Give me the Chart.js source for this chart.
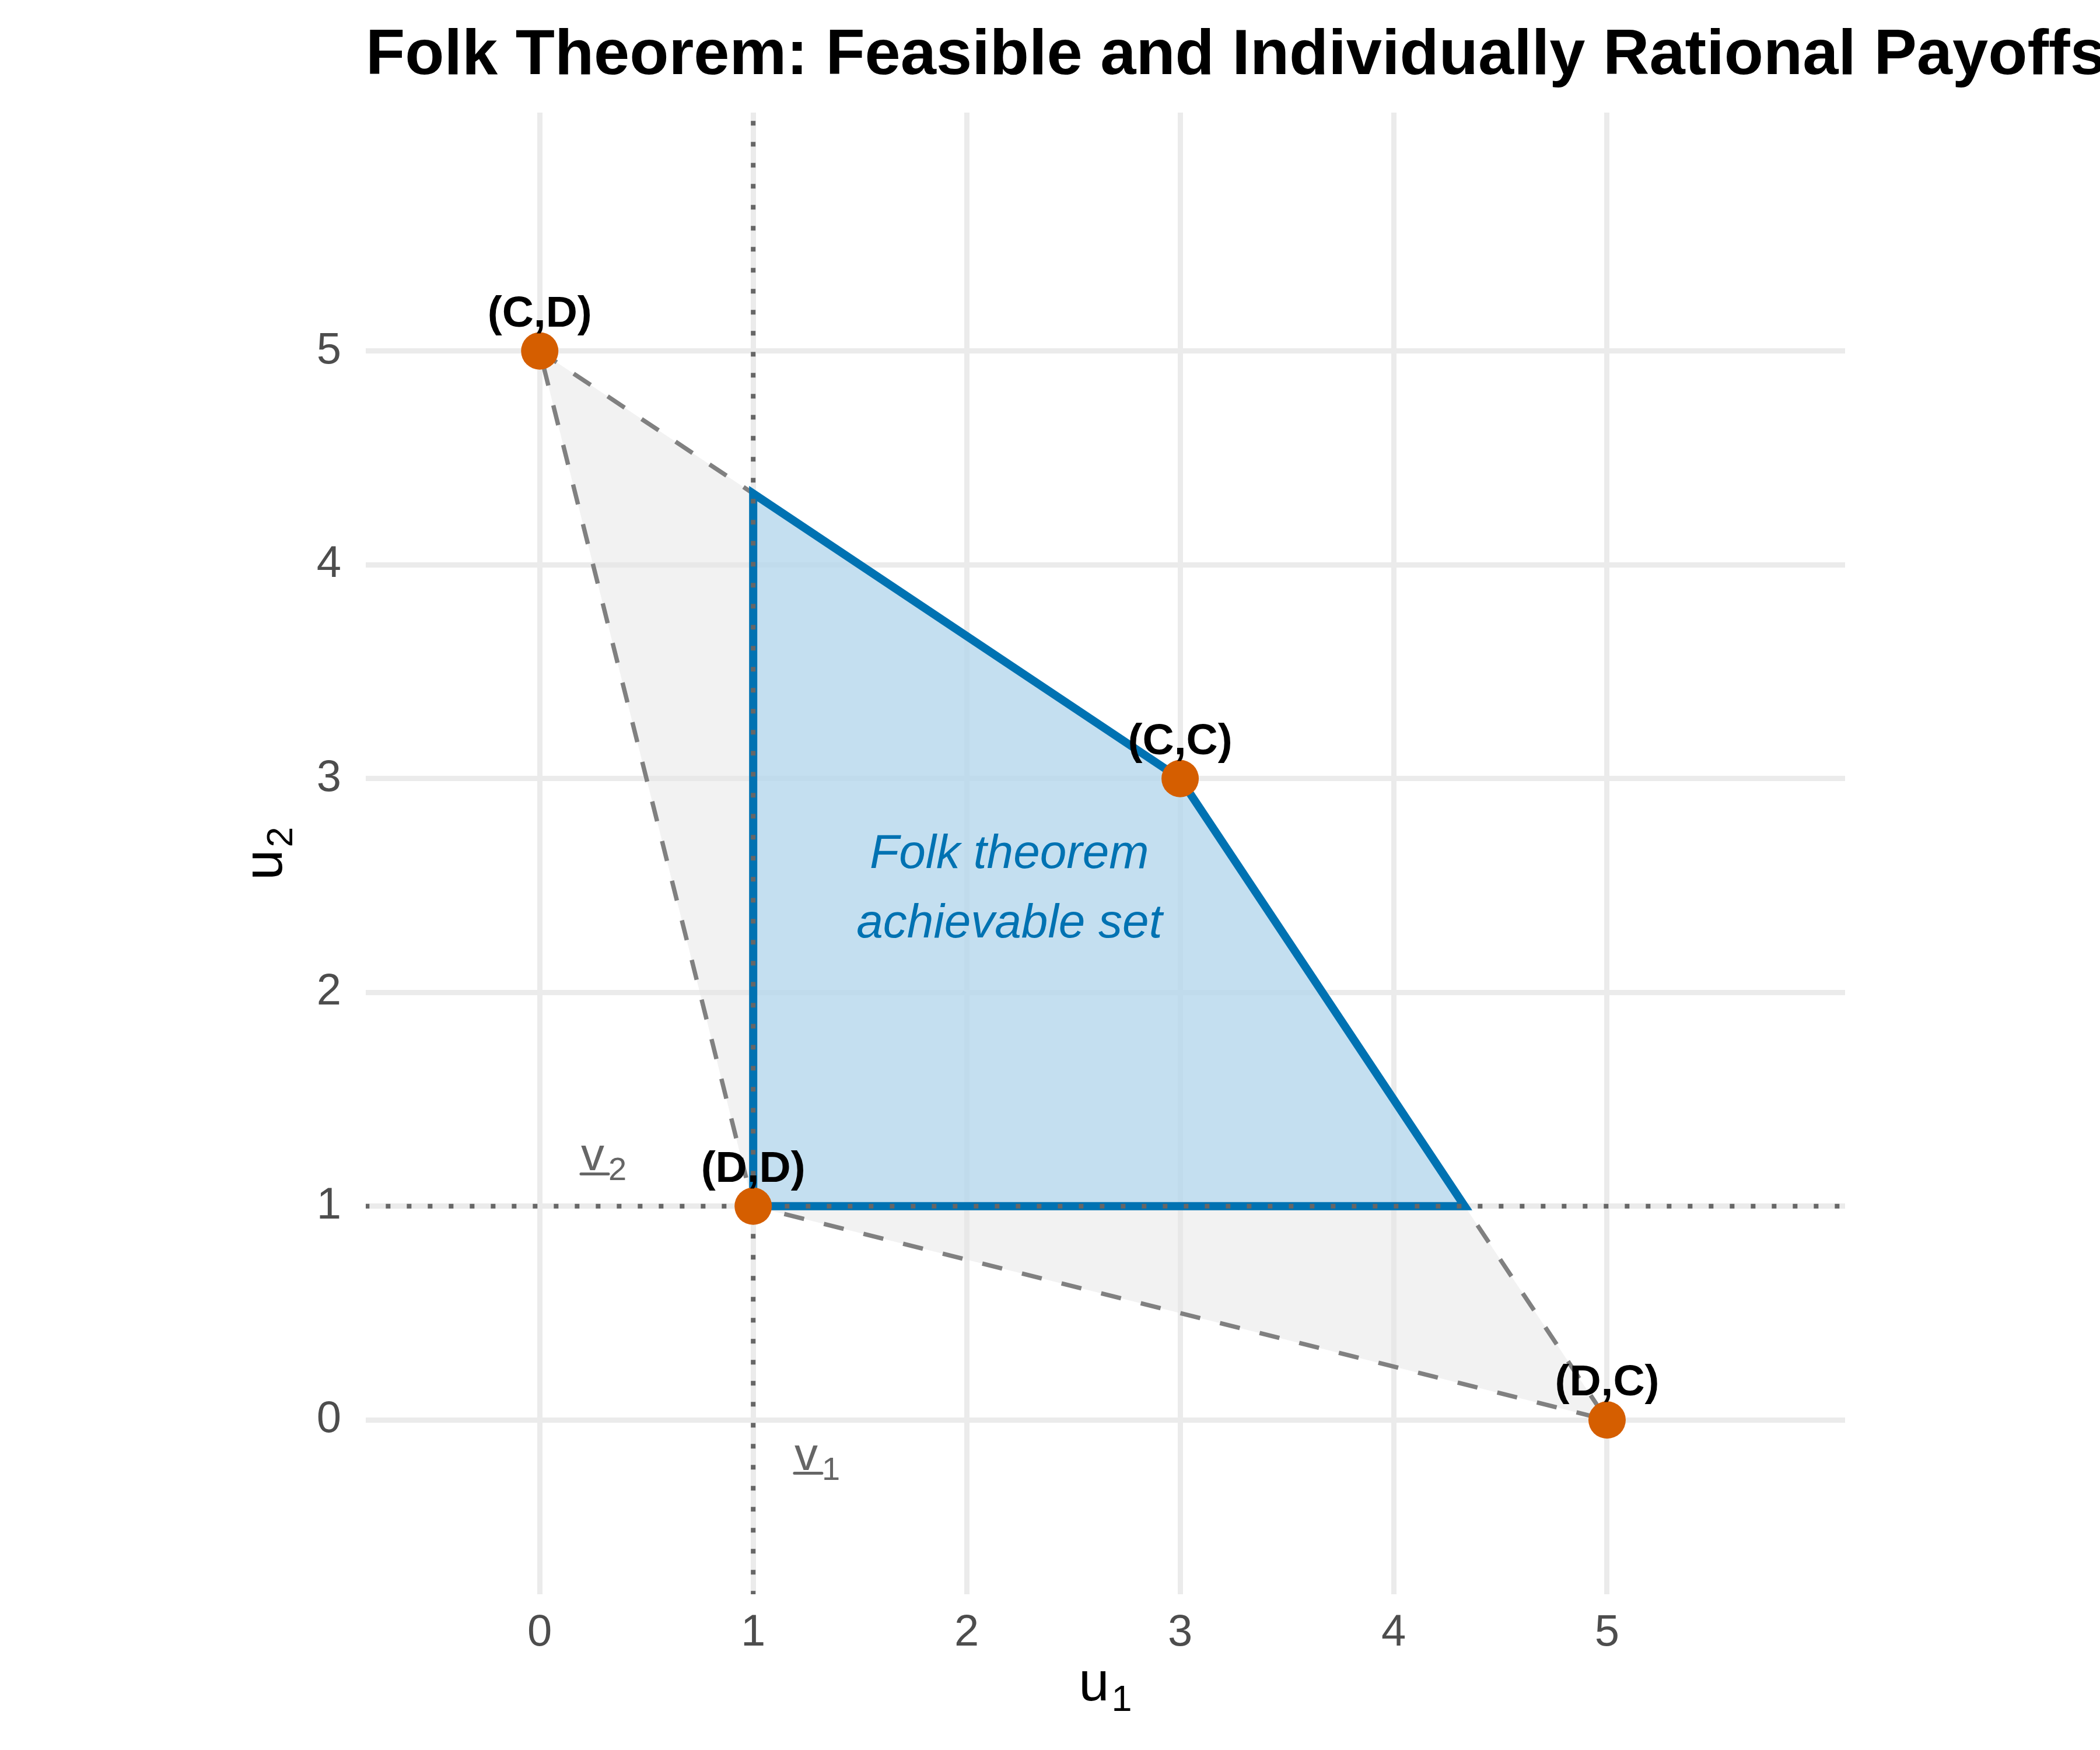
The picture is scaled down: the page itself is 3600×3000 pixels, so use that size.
<!DOCTYPE html>
<html>
<head>
<meta charset="utf-8">
<script src="https://cdn.jsdelivr.net/npm/chart.js@4/dist/chart.umd.min.js"></script>
<style>
  body { margin: 0; background: #fff; }
  canvas { display: block; }
</style>
</head>
<body>
<canvas id="graficoFolk" width="3600" height="3000" style="width:3600px;height:3000px"></canvas>
<script>
// pure strategy outcomes of the prisoner's dilemma
const outcomeLabels = ["(C,C)", "(C,D)", "(D,C)", "(D,D)"];
const outcomeU1 = [3, 0, 5, 1];
const outcomeU2 = [3, 5, 0, 1];

// feasible set (convex hull), closed
const feasibleU1 = [0, 3, 5, 1, 0];
const feasibleU2 = [5, 3, 0, 1, 5];

// feasible and individually rational part, closed
const folkU1 = [1, 1, 3, 4.333, 1];
const folkU2 = [1, 4.333, 3, 1, 1];

// minmax values
const minmaxU1 = 1;
const minmaxU2 = 1;

const tickValues = [0, 1, 2, 3, 4, 5];
const axisMin = -0.815;
const axisMax = 6.115;

const FONT = '"Liberation Sans", Arial, Helvetica, sans-serif';

function pares(xs, ys) {
  return xs.map((x, i) => ({ x: x, y: ys[i] }));
}

// text with a lowered subscript, left aligned at baseline
function textoSub(ctx, main, sub, x, y, mainFont, subFont, drop, gap, underline) {
  ctx.font = mainFont;
  const wMain = ctx.measureText(main).width;
  ctx.textAlign = "left";
  ctx.textBaseline = "alphabetic";
  ctx.fillText(main, x, y);
  if (underline) {
    ctx.save();
    ctx.strokeStyle = ctx.fillStyle;
    ctx.lineWidth = 5;
    ctx.lineCap = "round";
    ctx.beginPath();
    ctx.moveTo(x, y + 6);
    ctx.lineTo(x + wMain + gap, y + 6);
    ctx.stroke();
    ctx.restore();
  }
  ctx.font = subFont;
  ctx.fillText(sub, x + wMain + gap, y + drop);
}

function larguraSub(ctx, main, sub, mainFont, subFont, gap) {
  ctx.font = mainFont;
  const a = ctx.measureText(main).width;
  ctx.font = subFont;
  return a + gap + ctx.measureText(sub).width;
}

const textosPlugin = {
  id: "textos",
  afterDatasetsDraw(chart) {
    const ctx = chart.ctx;
    const xs = chart.scales.x, ys = chart.scales.y;
    ctx.save();

    // outcome labels
    ctx.fillStyle = "#000";
    ctx.font = "bold 75px " + FONT;
    ctx.textAlign = "center";
    ctx.textBaseline = "alphabetic";
    outcomeLabels.forEach((lab, i) => {
      const px = xs.getPixelForValue(outcomeU1[i]);
      const py = ys.getPixelForValue(outcomeU2[i]);
      ctx.fillText(lab, px, py - 42);
    });

    // annotation
    ctx.fillStyle = "#0072B2";
    ctx.font = "italic 82px " + FONT;
    const ax = xs.getPixelForValue(2.2);
    const ay = ys.getPixelForValue(2.5);
    ctx.fillText("Folk theorem", ax, ay - 30);
    ctx.fillText("achievable set", ax, ay + 89);

    // minmax labels
    ctx.fillStyle = "#666666";
    const vf = "80px " + FONT, sf = "56px " + FONT;
    [[0.3, 1.2, "2"], [1.3, -0.2, "1"]].forEach(p => {
      const cx = xs.getPixelForValue(p[0]);
      const cy = ys.getPixelForValue(p[1]);
      const w = larguraSub(ctx, "v", p[2], vf, sf, 7);
      textoSub(ctx, "v", p[2], cx - w / 2, cy + 12, vf, sf, 17, 7, true);
    });
    ctx.restore();
  },
  afterDraw(chart) {
    const ctx = chart.ctx;
    const area = chart.chartArea;
    ctx.save();
    // title, left aligned on the panel
    ctx.fillStyle = "#000";
    ctx.font = "bold 110px " + FONT;
    ctx.textAlign = "left";
    ctx.textBaseline = "alphabetic";
    ctx.fillText("Folk Theorem: Feasible and Individually Rational Payoffs", area.left, 127);

    // axis titles
    const mf = "94px " + FONT, sf = "63px " + FONT;
    const w1 = larguraSub(ctx, "u", "1", mf, sf, 4);
    const cx = (area.left + area.right) / 2;
    textoSub(ctx, "u", "1", cx - w1 / 2, 2915, mf, sf, 18, 4, false);

    const cy = (area.top + area.bottom) / 2;
    ctx.save();
    ctx.translate(483, cy + w1 / 2);
    ctx.rotate(-Math.PI / 2);
    textoSub(ctx, "u", "2", 0, 0, mf, sf, 18, 4, false);
    ctx.restore();
    ctx.restore();
  }
};

const eixo = {
  type: "linear",
  min: axisMin,
  max: axisMax,
  afterBuildTicks: (scale) => { scale.ticks = tickValues.map(v => ({ value: v })); },
  grid: { color: "#EBEBEB", lineWidth: 9, drawTicks: false },
  border: { display: false },
  ticks: { color: "#4D4D4D", font: { family: FONT, size: 76 } }
};

new Chart(document.getElementById("graficoFolk"), {
  type: "scatter",
  data: {
    datasets: [
      {
        label: "outcomes",
        order: 0,
        data: pares(outcomeU1, outcomeU2),
        pointRadius: 32,
        pointBackgroundColor: "#D55E00",
        pointBorderWidth: 0,
        showLine: false
      },
      {
        label: "v1",
        order: 1,
        data: [{ x: minmaxU1, y: -2 }, { x: minmaxU1, y: 8 }],
        showLine: true,
        borderColor: "#666666",
        borderWidth: 8,
        borderDash: [8, 28],
        pointRadius: 0,
        clip: 0
      },
      {
        label: "v2",
        order: 1,
        data: [{ x: -2, y: minmaxU2 }, { x: 8, y: minmaxU2 }],
        showLine: true,
        borderColor: "#666666",
        borderWidth: 8,
        borderDash: [8, 28],
        pointRadius: 0,
        clip: 0
      },
      {
        label: "folk",
        order: 2,
        data: pares(folkU1, folkU2),
        showLine: true,
        fill: "shape",
        backgroundColor: "rgba(165,210,239,0.6)",
        borderColor: "#0072B2",
        borderWidth: 14,
        borderJoinStyle: "miter",
        pointRadius: 0
      },
      {
        label: "feasible",
        order: 3,
        data: pares(feasibleU1, feasibleU2),
        showLine: true,
        fill: "shape",
        backgroundColor: "rgba(229,229,229,0.5)",
        borderColor: "#808080",
        borderWidth: 7.5,
        borderDash: [35, 35],
        pointRadius: 0
      }
    ]
  },
  options: {
    responsive: false,
    devicePixelRatio: 1,
    animation: false,
    layout: { padding: { top: 193, right: 437, left: 0, bottom: 0 } },
    plugins: { legend: { display: false }, tooltip: { enabled: false }, title: { display: false } },
    scales: {
      x: Object.assign({}, eixo, {
        position: "bottom",
        afterFit: (s) => { s.height = 267; },
        ticks: Object.assign({}, eixo.ticks, { padding: 21 })
      }),
      y: Object.assign({}, eixo, {
        position: "left",
        afterFit: (s) => { s.width = 627; },
        ticks: Object.assign({}, eixo.ticks, { padding: 42 })
      })
    }
  },
  plugins: [textosPlugin]
});
</script>
</body>
</html>
